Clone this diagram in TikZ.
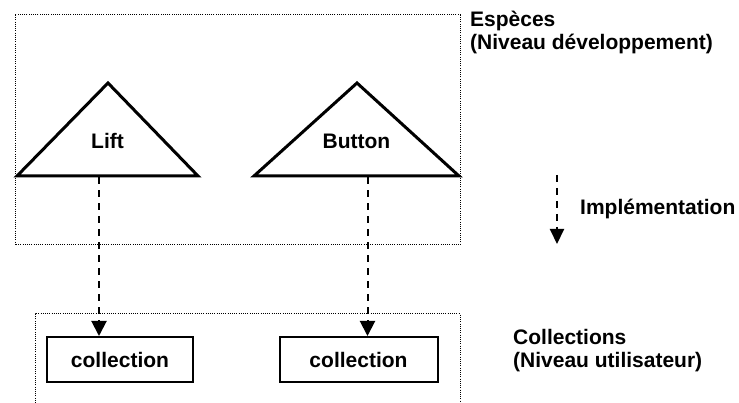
\documentclass[tikz,border=0pt]{standalone}
\usepackage{fontspec}
\setmainfont{Liberation Sans}
\usetikzlibrary{arrows.meta}
\begin{document}
\begin{tikzpicture}[x=1pt,y=-1pt,
  every node/.style={font=\fontsize{21}{23}\selectfont\bfseries},
  level/.style={draw, line width=1pt, dash pattern=on 1pt off 1.2pt},
  species/.style={draw, line width=3pt, line join=miter},
  collbox/.style={draw, line width=2pt, minimum height=45pt, inner sep=0pt},
  impl/.style={draw, line width=2pt, dash pattern=on 7pt off 6pt,
    -{Triangle[length=15pt,width=15pt]}},
  caption/.style={anchor=base west, align=left, inner sep=0pt}]
\useasboundingbox (0,0) rectangle (739,403);

% development level frame
\draw[level] (15,15) rectangle (460,245);
% user level frame, open at the bottom
\draw[level] (35,403) -- (35,314) -- (460,314) -- (460,403);

% species triangles
\draw[species] (17,176) -- (108,83) -- (198,176) -- cycle;
\draw[species] (254,176) -- (357,83) -- (459,176) -- cycle;
\node[anchor=base] (lift) at (107.5,149) {Lift};
\node[anchor=base] (button) at (356.5,149) {Button};
\coordinate (liftfoot) at (99,177.5);
\coordinate (buttonfoot) at (367.5,177.5);

% collections
\node[collbox, minimum width=146pt] (coll1) at (120,359.5) {collection};
\node[collbox, minimum width=158pt] (coll2) at (358.5,359.5) {collection};

% implementation links
\draw[impl] (liftfoot) -- (liftfoot |- coll1.north);
\draw[impl] (buttonfoot) -- (buttonfoot |- coll2.north);

% legend arrow
\coordinate (legtop) at (557,175);
\coordinate (legbot) at (557,244);
\draw[impl, -{Triangle[length=15pt,width=14pt]}] (legtop) -- (legbot);

% captions (anchored on the baseline of their last line)
\node[caption] (especes) at (470,50) {Espèces\\(Niveau développement)};
\node[caption] (implem) at (580,215) {Implémentation};
\node[caption] (collections) at (513,367) {Collections\\(Niveau utilisateur)};
\end{tikzpicture}
\end{document}
